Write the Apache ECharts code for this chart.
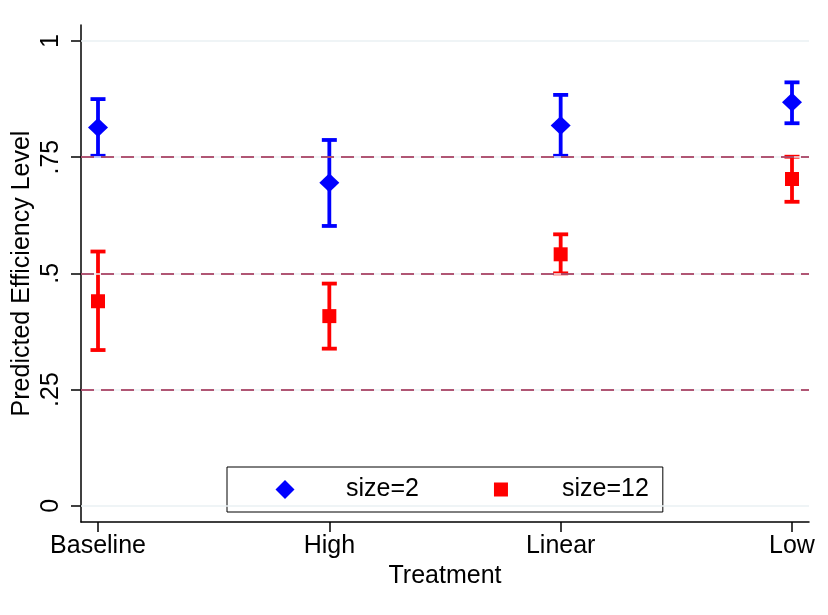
<!DOCTYPE html>
<html>
<head>
<meta charset="utf-8">
<script src="https://cdn.jsdelivr.net/npm/echarts@6/dist/echarts.min.js"></script>
<style>
  html, body { margin: 0; padding: 0; background: #fff; }
  #chart { width: 828px; height: 615px; }
</style>
</head>
<body>
<div id="chart"></div>
<script>
// treatments along the x axis
const categories = ['Baseline', 'High', 'Linear', 'Low'];

// size=2 : point estimate and 95% CI
const small = [0.814, 0.695, 0.818, 0.868];
const smallLo = [0.753, 0.602, 0.753, 0.823];
const smallHi = [0.875, 0.787, 0.884, 0.911];

// size=12
const large = [0.440, 0.408, 0.541, 0.703];
const largeLo = [0.335, 0.338, 0.500, 0.654];
const largeHi = [0.547, 0.478, 0.584, 0.751];

const yTicks = [0, 0.25, 0.5, 0.75, 1];
const yTickLabels = ['0', '.25', '.5', '.75', '1'];
const refLines = [0.25, 0.5, 0.75];

const FONT = 'Liberation Sans, Arial, sans-serif';
const BLUE = '#0000ff';
const RED = '#ff0000';

// legend icons: the bounding box covers the whole item so the marker sits centred
const ICON_DIAMOND = 'path://M0,0M112,19M56,0L65.5,9.5L56,19L46.5,9.5Z';
const ICON_SQUARE = 'path://M0,0M112,19M49,2.5L63,2.5L63,16.5L49,16.5Z';

function errorBars(lo, hi, color) {
  return {
    type: 'custom',
    z: 3,
    silent: true,
    data: lo.map((v, i) => [i, v, hi[i]]),
    renderItem: (params, api) => {
      const a = api.coord([api.value(0), api.value(1)]);
      const b = api.coord([api.value(0), api.value(2)]);
      const hw = 7.5;
      const style = { stroke: color, lineWidth: 3.8, lineCap: 'butt' };
      return {
        type: 'group',
        children: [
          { type: 'line', shape: { x1: a[0], y1: a[1], x2: b[0], y2: b[1] }, style },
          { type: 'line', shape: { x1: a[0] - hw, y1: a[1], x2: a[0] + hw, y2: a[1] }, style },
          { type: 'line', shape: { x1: b[0] - hw, y1: b[1], x2: b[0] + hw, y2: b[1] }, style },
        ],
      };
    },
  };
}

const chart = echarts.init(document.getElementById('chart'), null, { renderer: 'canvas' });

chart.setOption({
  animation: false,
  textStyle: { fontFamily: FONT },
  grid: { left: 81, right: 19, top: 25, bottom: 93, containLabel: false, outerBoundsMode: 'none' },
  legend: {
    left: 227,
    top: 467,
    orient: 'horizontal',
    borderColor: '#000',
    borderWidth: 1,
    borderRadius: 0,
    padding: [10, 14, 10, 2],
    itemGap: 26,
    itemWidth: 112,
    itemHeight: 19,
    symbolKeepAspect: false,
    textStyle: { fontSize: 25, color: '#000', fontFamily: FONT, lineHeight: 21 },
    data: [
      { name: 'size=2', icon: ICON_DIAMOND },
      { name: 'size=12', icon: ICON_SQUARE },
    ],
    selectedMode: false,
  },
  xAxis: {
    type: 'value',
    min: -0.0735,
    max: 3.0735,
    name: 'Treatment',
    nameLocation: 'middle',
    nameGap: 40,
    nameTextStyle: { fontSize: 25, color: '#000', fontFamily: FONT },
    axisLine: { show: true, onZero: false, lineStyle: { color: '#000', width: 1.5 } },
    axisTick: { show: true, length: 10, customValues: [0, 1, 2, 3], lineStyle: { color: '#000', width: 1.5 } },
    axisLabel: {
      customValues: [0, 1, 2, 3],
      formatter: (v) => categories[Math.round(v)],
      fontSize: 25,
      color: '#000',
      margin: 12,
    },
    splitLine: { show: false },
  },
  yAxis: {
    type: 'value',
    min: -0.035,
    max: 1.0344,
    name: 'Predicted Efficiency Level',
    nameLocation: 'middle',
    nameGap: 46,
    nameMoveOverlap: false,
    nameRotate: 90,
    nameTextStyle: { fontSize: 25, color: '#000', fontFamily: FONT },
    axisLine: { show: true, onZero: false, lineStyle: { color: '#000', width: 1.5 } },
    axisTick: { show: true, length: 10, customValues: yTicks, lineStyle: { color: '#000', width: 1.5 } },
    axisLabel: {
      customValues: yTicks,
      formatter: (v) => yTickLabels[yTicks.indexOf(v)] ?? '',
      rotate: 90,
      fontSize: 25,
      color: '#000',
      margin: 17,
    },
    splitLine: { show: false },
  },
  series: [
    {
      // light grid lines behind everything
      type: 'line',
      data: [],
      z: 1,
      silent: true,
      markLine: {
        silent: true,
        symbol: 'none',
        label: { show: false },
        lineStyle: { color: '#eaf1f3', width: 1.5, type: 'solid' },
        data: yTicks.map((v) => ({ yAxis: v })),
      },
    },
    {
      type: 'line',
      data: [],
      z: 2,
      silent: true,
      markLine: {
        silent: true,
        symbol: 'none',
        label: { show: false },
        lineStyle: { color: '#9c2249', width: 1.5, type: [13, 7] },
        data: refLines.map((v) => ({ yAxis: v })),
      },
    },
    errorBars(smallLo, smallHi, BLUE),
    errorBars(largeLo, largeHi, RED),
    {
      name: 'size=2',
      type: 'scatter',
      z: 4,
      symbol: 'diamond',
      symbolSize: [20, 19],
      itemStyle: { color: BLUE, opacity: 1 },
      data: small.map((v, i) => [i, v]),
    },
    {
      name: 'size=12',
      type: 'scatter',
      z: 4,
      symbol: 'rect',
      symbolSize: 14,
      itemStyle: { color: RED, opacity: 1 },
      data: large.map((v, i) => [i, v]),
    },
  ],
});
</script>
</body>
</html>
